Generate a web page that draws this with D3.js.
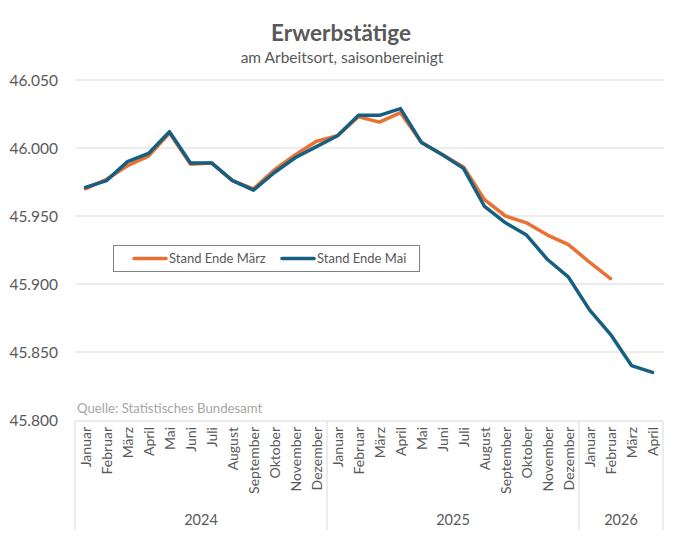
<!DOCTYPE html>
<html>
<head>
<meta charset="utf-8">
<script src="https://cdn.jsdelivr.net/npm/d3@7"></script>
<style>
  body { margin: 0; background: #fff; }
  text { font-family: Lato, "Noto Sans", sans-serif; }
</style>
</head>
<body>
<div id="canvas"></div>
<script>
"use strict"

let svgWidth = 680
let svgHeight = 546

/* data */
let months = ["Januar", "Februar", "März", "April", "Mai", "Juni", "Juli", "August",
  "September", "Oktober", "November", "Dezember"]
let years = ["2024", "2025", "2026"]
let monthsPerYear = [12, 12, 4]

let standMaerz = [45970, 45977, 45987, 45994, 46011, 45988, 45989, 45976, 45970, 45984, 45995, 46005,
  46009, 46023, 46019, 46026, 46004, 45995, 45986, 45962, 45950, 45945, 45936, 45929,
  45916, 45904]
let standMai = [45971, 45976, 45990, 45996, 46012, 45989, 45989, 45976, 45969, 45982, 45993, 46001,
  46009, 46024, 46024, 46029, 46004, 45995, 45985, 45957, 45945, 45936, 45918, 45905,
  45881, 45863, 45840, 45835]
let yTicks = [45800, 45850, 45900, 45950, 46000, 46050]

let seriesNames = ["Stand Ende März", "Stand Ende Mai"]
let colors = ["#E97132", "#156082"]

/* categories: one per month */
let categories = []
years.forEach(function (y, i) {
  for (let m = 0; m < monthsPerYear[i]; m++) categories.push({ key: y + "-" + m, month: months[m], year: y })
})

let plotLeft = 75, plotRight = 663, plotTop = 80, plotBottom = 420

let svg = d3.select("#canvas").append("svg")
  .attr("width", svgWidth)
  .attr("height", svgHeight)

let xScale = d3.scaleBand()
  .domain(categories.map(d => d.key))
  .range([plotLeft, plotRight])

let yScale = d3.scaleLinear()
  .domain([45800, 46050])
  .range([plotBottom, plotTop])

/* title */
svg.append("text")
  .attr("x", 341).attr("y", 41)
  .attr("text-anchor", "middle")
  .attr("font-size", "22.5px").attr("font-weight", "bold")
  .attr("fill", "#595959")
  .text("Erwerbstätige")

svg.append("text")
  .attr("x", 342).attr("y", 63)
  .attr("text-anchor", "middle")
  .attr("font-size", "15.5px")
  .attr("fill", "#595959")
  .text("am Arbeitsort, saisonbereinigt")

/* gridlines + y labels */
svg.selectAll(".grid")
  .data(yTicks.slice(1))
  .join("line")
  .attr("class", "grid")
  .attr("x1", plotLeft).attr("x2", plotRight + 1)
  .attr("y1", d => yScale(d)).attr("y2", d => yScale(d))
  .attr("stroke", "#d9d9d9").attr("stroke-width", 1)

svg.selectAll(".ylab")
  .data(yTicks)
  .join("text")
  .attr("class", "ylab")
  .attr("x", 58)
  .attr("y", d => yScale(d) + 6)
  .attr("text-anchor", "end")
  .attr("font-size", "15.5px")
  .attr("fill", "#595959")
  .text(d => d3.format(",")(d).replace(",", "."))

/* source */
svg.append("text")
  .attr("x", 77).attr("y", 413)
  .attr("font-size", "13.2px")
  .attr("fill", "#a6a6a6")
  .text("Quelle: Statistisches Bundesamt")

/* x axis: line, group separators, labels */
let axisBottom = 530
svg.append("line")
  .attr("x1", plotLeft).attr("x2", plotRight)
  .attr("y1", plotBottom + 1).attr("y2", plotBottom + 1)
  .attr("stroke", "#d9d9d9")

let sepX = [plotLeft]
let acc = 0
monthsPerYear.forEach(function (n) {
  acc += n
  sepX.push(xScale(categories[acc - 1].key) + xScale.bandwidth())
})
svg.selectAll(".sep")
  .data(sepX)
  .join("line")
  .attr("class", "sep")
  .attr("x1", d => d).attr("x2", d => d)
  .attr("y1", plotBottom + 1).attr("y2", axisBottom)
  .attr("stroke", "#d9d9d9")

svg.selectAll(".mlab")
  .data(categories)
  .join("text")
  .attr("class", "mlab")
  .attr("transform", d => "translate(" + (xScale(d.key) + xScale.bandwidth() / 2 + 5) + "," + (plotBottom + 7) + ") rotate(-90)")
  .attr("text-anchor", "end")
  .attr("font-size", "14px")
  .attr("fill", "#595959")
  .text(d => d.month)

svg.selectAll(".yearlab")
  .data(years)
  .join("text")
  .attr("class", "yearlab")
  .attr("x", (d, i) => (sepX[i] + sepX[i + 1]) / 2)
  .attr("y", 525)
  .attr("text-anchor", "middle")
  .attr("font-size", "14.5px")
  .attr("fill", "#595959")
  .text(d => d)

/* lines */
let line = d3.line()
  .x((d, i) => xScale(categories[i].key) + xScale.bandwidth() / 2)
  .y(d => yScale(d))

;[standMaerz, standMai].forEach(function (s, i) {
  svg.append("path")
    .datum(s)
    .attr("d", line)
    .attr("fill", "none")
    .attr("stroke", colors[i])
    .attr("stroke-width", 3.5)
    .attr("stroke-linejoin", "round")
    .attr("stroke-linecap", "round")
})

/* legend */
svg.append("rect")
  .attr("x", 113.5).attr("y", 245.5)
  .attr("width", 306).attr("height", 26)
  .attr("fill", "#fff")
  .attr("stroke", "#808080")

let legX = [134, 282]
seriesNames.forEach(function (name, i) {
  svg.append("line")
    .attr("x1", legX[i]).attr("x2", legX[i] + 32)
    .attr("y1", 258.5).attr("y2", 258.5)
    .attr("stroke", colors[i]).attr("stroke-width", 3.5)
    .attr("stroke-linecap", "round")
  svg.append("text")
    .attr("x", legX[i] + 35).attr("y", 263)
    .attr("font-size", "13px")
    .attr("fill", "#595959")
    .text(name)
})
</script>
</body>
</html>
